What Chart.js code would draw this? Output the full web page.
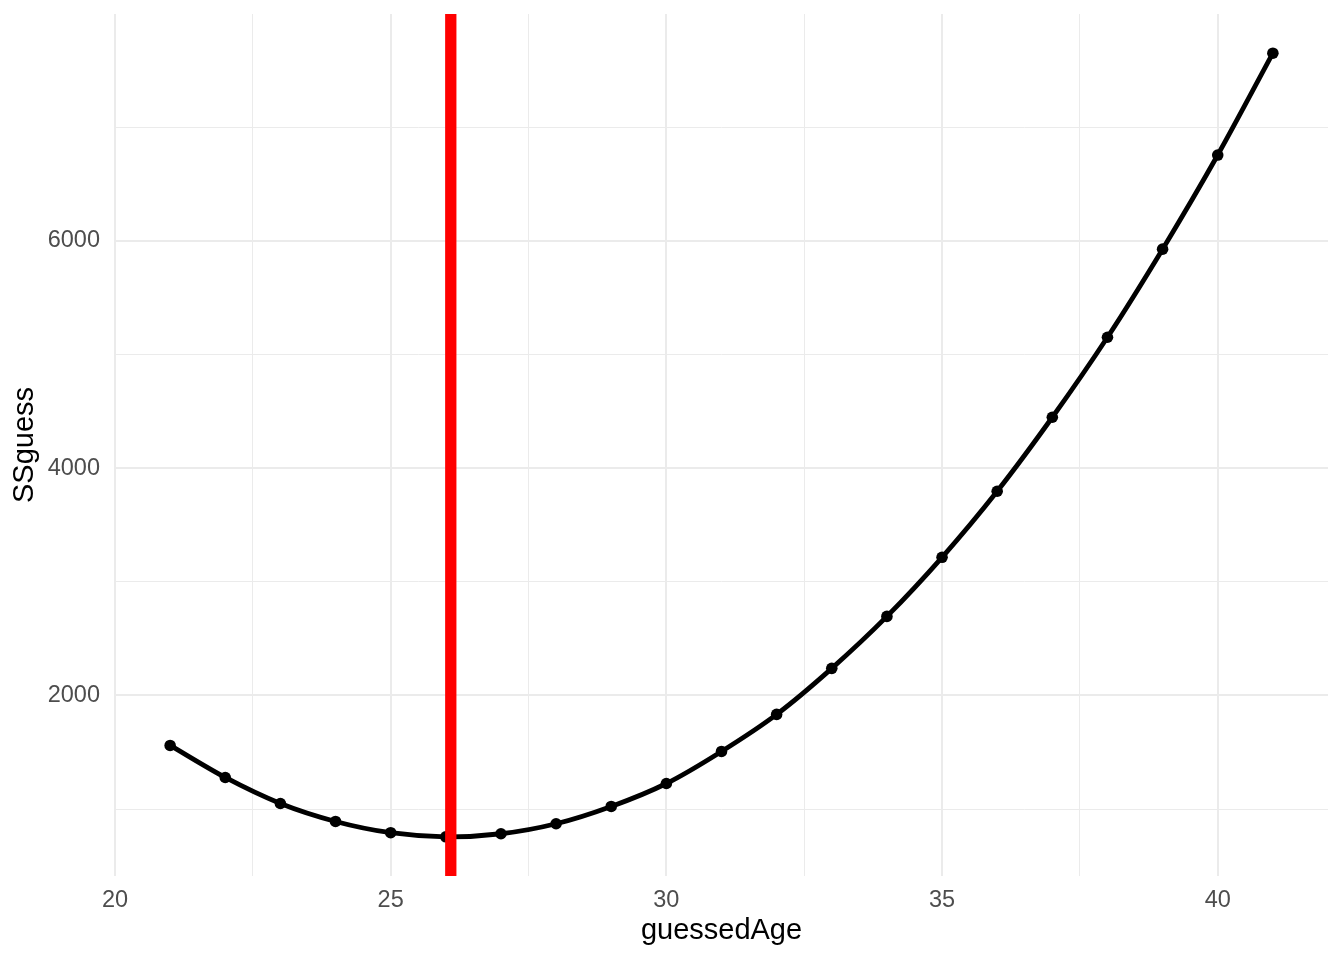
<!DOCTYPE html>
<html>
<head>
<meta charset="utf-8">
<script src="https://cdn.jsdelivr.net/npm/chart.js@4/dist/chart.umd.min.js"></script>
<style>
  html, body { margin: 0; padding: 0; background: #fff; }
  #wrap { position: relative; width: 1344px; height: 960px; }
</style>
</head>
<body>
<div id="wrap"><canvas id="c" width="1344" height="960"></canvas></div>
<script>
// SS of guesses vs guessed age, ggplot theme_minimal look.
const guessedAge = [21, 22, 23, 24, 25, 26, 27, 28, 29, 30, 31, 32, 33, 34, 35, 36, 37, 38, 39, 40, 41];
const SSguess = [1560, 1278, 1049, 891, 792, 756, 783, 871, 1023, 1225, 1507, 1833, 2238, 2695, 3215, 3796, 4447, 5151, 5926, 6754, 7650];
const meanAge = 26.09;
const xTicks = [20, 22.5, 25, 27.5, 30, 32.5, 35, 37.5, 40];
const yTicks = [1000, 2000, 3000, 4000, 5000, 6000, 7000];

// ggplot style 5% expansion
const yLo = Math.min(...SSguess), yHi = Math.max(...SSguess);
const yMin = yLo - (yHi - yLo) * 0.05;
const yMax = yHi + (yHi - yLo) * 0.05;
const xMin = 20, xMax = 42;

const FONT = '"Liberation Sans", Arial, Helvetica, sans-serif';
const isMajor = (v, step) => Math.abs(v / step - Math.round(v / step)) < 1e-6;

new Chart(document.getElementById('c'), {
  type: 'line',
  data: {
    datasets: [
      {
        data: [{ x: meanAge, y: yMin }, { x: meanAge, y: yMax }],
        borderColor: '#ff0000',
        borderWidth: 11.3,
        pointRadius: 0,
        borderCapStyle: 'butt',
        clip: false,
      },
      {
        data: guessedAge.map((a, i) => ({ x: a, y: SSguess[i] })),
        borderColor: '#000',
        borderWidth: 4.8,
        tension: 0.3,
        pointRadius: 5.8,
        pointBackgroundColor: '#000',
        pointBorderWidth: 0,
      },
    ],
  },
  options: {
    responsive: false, animation: false,
    layout: { padding: { top: 14, right: 16, left: 0, bottom: 0 } },
    plugins: { legend: { display: false }, tooltip: { enabled: false } },
    scales: {
      x: {
        type: 'linear', min: xMin, max: xMax,
        afterBuildTicks: (s) => { s.ticks = xTicks.map((v) => ({ value: v })); },
        afterFit: (s) => { s.height = 84; s.paddingLeft = 0; s.paddingRight = 0; },
        border: { display: false },
        grid: {
          color: '#ebebeb',
          lineWidth: (ctx) => (isMajor(ctx.tick.value, 5) ? 2 : 1),
          drawTicks: false,
        },
        ticks: {
          padding: 10, color: '#4d4d4d', font: { family: FONT, size: 23.5 },
          maxRotation: 0, autoSkip: false,
          callback: (v) => (isMajor(v, 5) ? String(v) : ''),
        },
        title: {
          display: true, text: 'guessedAge', color: '#000',
          font: { family: FONT, size: 29 }, padding: { top: 0, bottom: 12 },
        },
      },
      y: {
        type: 'linear', min: yMin, max: yMax,
        afterBuildTicks: (s) => { s.ticks = yTicks.map((v) => ({ value: v })); },
        afterFit: (s) => { s.width = 115; s.paddingTop = 0; s.paddingBottom = 0; },
        border: { display: false },
        grid: {
          color: '#ebebeb',
          lineWidth: (ctx) => (isMajor(ctx.tick.value, 2000) ? 2 : 1),
          drawTicks: false,
        },
        ticks: {
          padding: 15, color: '#4d4d4d', font: { family: FONT, size: 23.5 },
          autoSkip: false,
          callback: (v) => (isMajor(v, 2000) ? String(v) : ''),
        },
        title: {
          display: true, text: 'SSguess', color: '#000',
          font: { family: FONT, size: 29 }, padding: { top: 8, bottom: 0 },
        },
      },
    },
  },
});
</script>
</body>
</html>
